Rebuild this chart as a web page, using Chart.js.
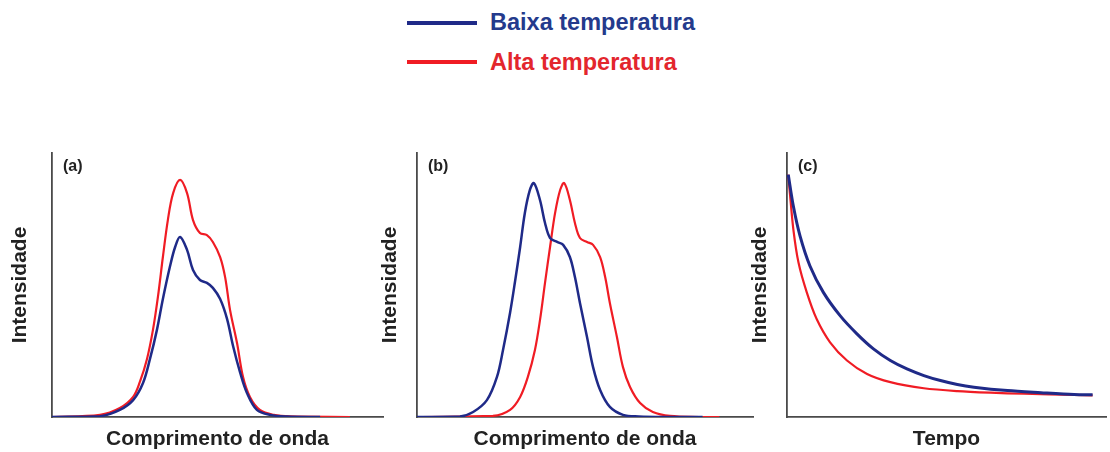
<!DOCTYPE html>
<html>
<head>
<meta charset="utf-8">
<script src="https://cdn.jsdelivr.net/npm/chart.js"></script>
<style>
  body { margin: 0; background: #fff; }
  #wrap { position: relative; width: 1110px; height: 452px; overflow: hidden; font-family: "Liberation Sans", Arial, sans-serif; }
  canvas { position: absolute; }
  .key { position: absolute; left: 407px; width: 70px; height: 4px; }
  .lbl { position: absolute; left: 490px; font-weight: bold; font-size: 23.5px; line-height: 26px; }
</style>
</head>
<body>
<div id="wrap">
  <div class="key" style="top:21px;background:#1f2a88"></div>
  <div class="lbl" style="top:9px;color:#243a8c">Baixa temperatura</div>
  <div class="key" style="top:60px;background:#f01c24"></div>
  <div class="lbl" style="top:49px;color:#e3262d">Alta temperatura</div>

  <canvas id="chartA" width="390" height="312" style="left:0;top:140px"></canvas>
  <canvas id="chartB" width="390" height="312" style="left:370px;top:140px"></canvas>
  <canvas id="chartC" width="370" height="312" style="left:740px;top:140px"></canvas>
</div>
<script>
// (a) mesma posição, intensidade maior em alta temperatura
const waveBaixaA = [0, 14.5, 20.5, 24.5, 27.5, 29.6, 31.7, 33.5, 35.6, 37.2, 38.7, 40.8, 42.6, 44.7, 46.8, 48.6, 50.8, 52.9, 54.7, 56.8, 58.9, 61.9, 66, 71, 81];
const baixaA = [0, 0.3, 2.7, 6.4, 12.9, 22, 33, 44.7, 56.8, 64.4, 68.2, 63.3, 55.7, 51.9, 50.8, 48.9, 44.7, 37.1, 26.9, 17, 9.1, 2.7, 0.8, 0.2, 0];
const waveAltaA = [0, 14.5, 20.5, 24.5, 26.6, 28.7, 30.5, 32, 33.5, 35, 36.6, 38.7, 40.8, 42.6, 44.7, 46.8, 48.6, 50.8, 52.3, 53.8, 55.9, 57.7, 59.8, 62.8, 67, 72, 90];
const altaA = [0, 0.8, 3.4, 7.6, 13.5, 22, 33, 45.5, 60.6, 74.6, 84.8, 89.8, 84.8, 74.6, 69.7, 68.9, 66.3, 60.6, 53, 40.5, 28, 15.2, 7.6, 2.7, 0.8, 0.2, 0];

// (b) deslocamento do espectro
const waveBaixaB = [0, 12.8, 16.7, 20.8, 23.8, 25.6, 27.7, 29.2, 30.7, 32.1, 33.6, 34.8, 36.6, 38.1, 39.6, 41.7, 43.5, 45.5, 47, 48.5, 50.6, 52.4, 54.5, 57.4, 61.3, 66, 75, 85];
const baixaB = [0, 0.2, 1.9, 6.4, 15.2, 25.4, 39.5, 51.5, 64.4, 77.3, 86, 88.6, 82.2, 73.5, 67.8, 66.3, 65.2, 60.6, 53, 43.2, 30.3, 18.9, 10.2, 3.8, 0.8, 0.2, 0, 0];
const waveAltaB = [0, 22.6, 27.7, 30.7, 33, 35.1, 36.6, 38.1, 39.6, 41.1, 42.6, 43.8, 45.5, 47, 48.5, 50.6, 52.4, 54.5, 56, 57.4, 59.5, 61.3, 63.4, 66.4, 70.2, 75.3, 84, 90];
const altaB = [0, 0.4, 2.7, 7.6, 15.2, 25.4, 36.7, 50.8, 64.4, 77.3, 86, 88.6, 82.2, 73.5, 67.8, 66.3, 65.2, 60.6, 53, 43.2, 30.3, 18.9, 11.4, 5.3, 1.9, 0.4, 0, 0];

// (c) decaimento no tempo
const tempoBaixaC = [0.4, 2, 4.1, 7.2, 11.4, 16.7, 22, 27.1, 32.4, 37.6, 42.9, 48.1, 53.4, 58.6, 69.1, 79.6, 90, 95.8];
const baixaC = [91.8, 79.8, 68.5, 57.2, 47.2, 38.3, 31.4, 25.8, 21.4, 18.2, 15.7, 13.8, 12.3, 11.3, 10, 9.2, 8.5, 8.4];
const tempoAltaC = [0.4, 0.9, 2, 3.6, 6.2, 9.3, 13.5, 18.8, 25.1, 32.4, 42.9, 53.4, 63.8, 74.3, 90, 95.8];
const altaC = [91.8, 84.9, 71, 58.5, 47.2, 37.1, 28.3, 21.4, 16.3, 13.2, 10.9, 9.8, 9.2, 8.8, 8.4, 8.2];

const BLUE = '#1f2a88';
const RED = '#f01c24';
const FONT = '"Liberation Sans", Arial, sans-serif';

let pts = (xs, ys) => xs.map((x, i) => ({ x: x, y: ys[i] }));

/* etiqueta (a), (b), (c) no canto do gráfico */
const panelLabel = {
  id: 'panelLabel',
  afterDraw(chart, args, opts) {
    const { ctx, chartArea } = chart;
    ctx.save();
    ctx.font = 'bold 16px ' + FONT;
    ctx.fillStyle = '#222';
    ctx.textBaseline = 'middle';
    ctx.fillText(opts.text, chartArea.left + 11, chartArea.top + 14);
    ctx.restore();
  }
};

let line = (label, color, data, width, tension) => ({
  label: label,
  data: data,
  borderColor: color,
  borderWidth: width,
  pointRadius: 0,
  fill: false,
  tension: tension
});

let plot = (id, tag, xTitle, datasets, yPadBottom, padRight) => {
  const ctx = document.getElementById(id);
  const axisBorder = { display: true, color: '#4a4a4a', width: 1.8 };
  new Chart(ctx, {
    type: 'line',
    data: { datasets: datasets },
    options: {
      responsive: false,
      animation: false,
      layout: { padding: { top: 13, right: padRight, bottom: 0, left: 0 } },
      plugins: {
        legend: { display: false },
        tooltip: { enabled: false },
        panelLabel: { text: tag }
      },
      scales: {
        x: {
          type: 'linear', min: 0, max: 100,
          grid: { display: false, drawTicks: false },
          border: axisBorder,
          ticks: { display: false },
          title: { display: true, text: xTitle, color: '#222', padding: { top: 9.8, bottom: 0 },
                   font: { family: FONT, size: 21, weight: 'bold', lineHeight: 1.2 } }
        },
        y: {
          min: 0, max: 100,
          grid: { display: false, drawTicks: false },
          border: axisBorder,
          ticks: { display: false },
          title: { display: true, text: 'Intensidade', color: '#222', padding: { top: 7.4, bottom: yPadBottom },
                   font: { family: FONT, size: 21, weight: 'bold', lineHeight: 1.2 } }
        }
      }
    },
    plugins: [panelLabel]
  });
};

plot('chartA', '(a)', 'Comprimento de onda', [
  line('Baixa temperatura', BLUE, pts(waveBaixaA, baixaA), 2.5, 0.35),
  line('Alta temperatura', RED, pts(waveAltaA, altaA), 2.2, 0.35)
], 19.4, 7);

plot('chartB', '(b)', 'Comprimento de onda', [
  line('Baixa temperatura', BLUE, pts(waveBaixaB, baixaB), 2.5, 0.35),
  line('Alta temperatura', RED, pts(waveAltaB, altaB), 2.2, 0.35)
], 14.4, 7);

plot('chartC', '(c)', 'Tempo', [
  line('Baixa temperatura', BLUE, pts(tempoBaixaC, baixaC), 3, 0.3),
  line('Alta temperatura', RED, pts(tempoAltaC, altaC), 2.2, 0.3)
], 14.4, 4);
</script>
</body>
</html>
